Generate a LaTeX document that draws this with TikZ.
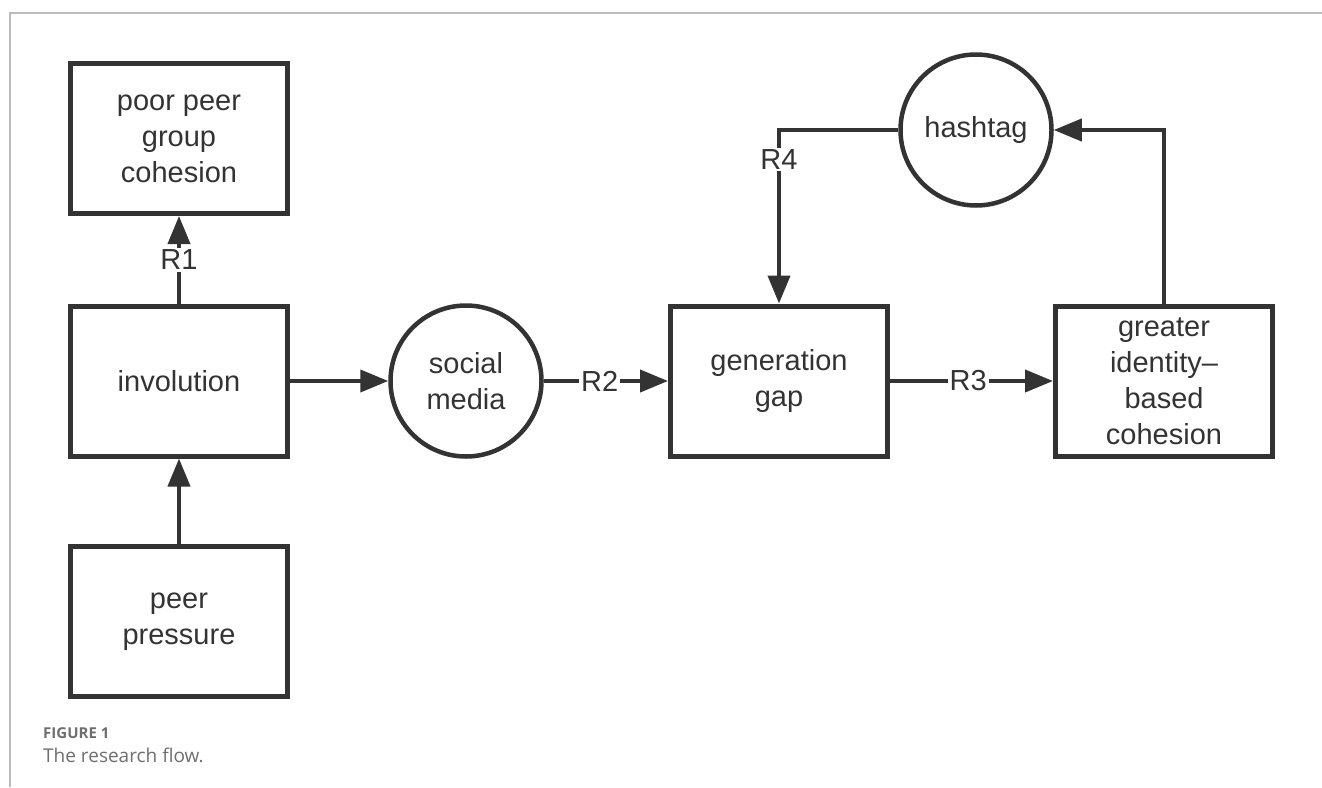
\documentclass[tikz,border=0pt]{standalone}
\usepackage{fontspec}
\setmainfont{Liberation Sans}
\newfontfamily\capfont{Open Sans}
\usetikzlibrary{arrows.meta}
\definecolor{ink}{HTML}{333333}
\definecolor{framegray}{HTML}{BBBBBB}
\definecolor{capgray}{HTML}{6E6E6E}
\begin{document}
\begin{tikzpicture}[x=1pt,y=-1pt,
  box/.style={draw=ink, line width=5pt, minimum width=217pt, minimum height=150pt,
    align=center, text=ink, inner sep=0pt, font=\fontsize{29}{36}\selectfont},
  circ/.style={circle, draw=ink, line width=4.5pt, minimum size=151pt,
    align=center, text=ink, inner sep=0pt, font=\fontsize{29}{36}\selectfont},
  arr/.style={draw=ink, line width=4pt, -{Triangle[length=28pt,width=22pt]}},
  lbl/.style={fill=white, text=ink, inner sep=2pt, font=\fontsize{29}{30}\selectfont}
]
\useasboundingbox (0,0) rectangle (1322,787);
\draw[framegray, line width=2pt] (10,787) -- (10,13) -- (1322,13);

\node[box] (poor) at (179,138.5) {poor peer\\group\\cohesion};
\node[box] (inv) at (179,381) {involution};
\node[box] (peer) at (179,621.5) {peer\\pressure};
\node[circ] (sm) at (466,381) {social\\media};
\node[box] (gen) at (779,381) {generation\\gap};
\node[box] (gic) at (1164,381) {greater\\identity–\\based\\cohesion};
\node[circ] (hash) at (976,130) {hashtag};

\draw[arr] (inv.north) -- node[lbl]{R1} (poor.south);
\draw[arr] (peer.north) -- (inv.south);
\draw[arr] (inv.east) -- (sm.west);
\draw[arr] (sm.east) -- node[lbl, pos=0.45]{R2} (gen.west);
\draw[arr] (gen.east) -- node[lbl, pos=0.48]{R3} (gic.west);
\draw[arr] (gic.north) |- (hash.east);
\draw[arr] (hash.west) -| node[lbl, pos=0.585]{R4} (gen.north);

\node[anchor=base west, text=capgray, inner sep=0pt, font=\capfont\bfseries\fontsize{15}{18}\selectfont] (figlabel) at (43,738) {FIGURE 1};
\node[anchor=base west, text=capgray, inner sep=0pt, font=\capfont\fontsize{19}{22}\selectfont] (figcap) at (43,762) {The research flow.};
\end{tikzpicture}
\end{document}
